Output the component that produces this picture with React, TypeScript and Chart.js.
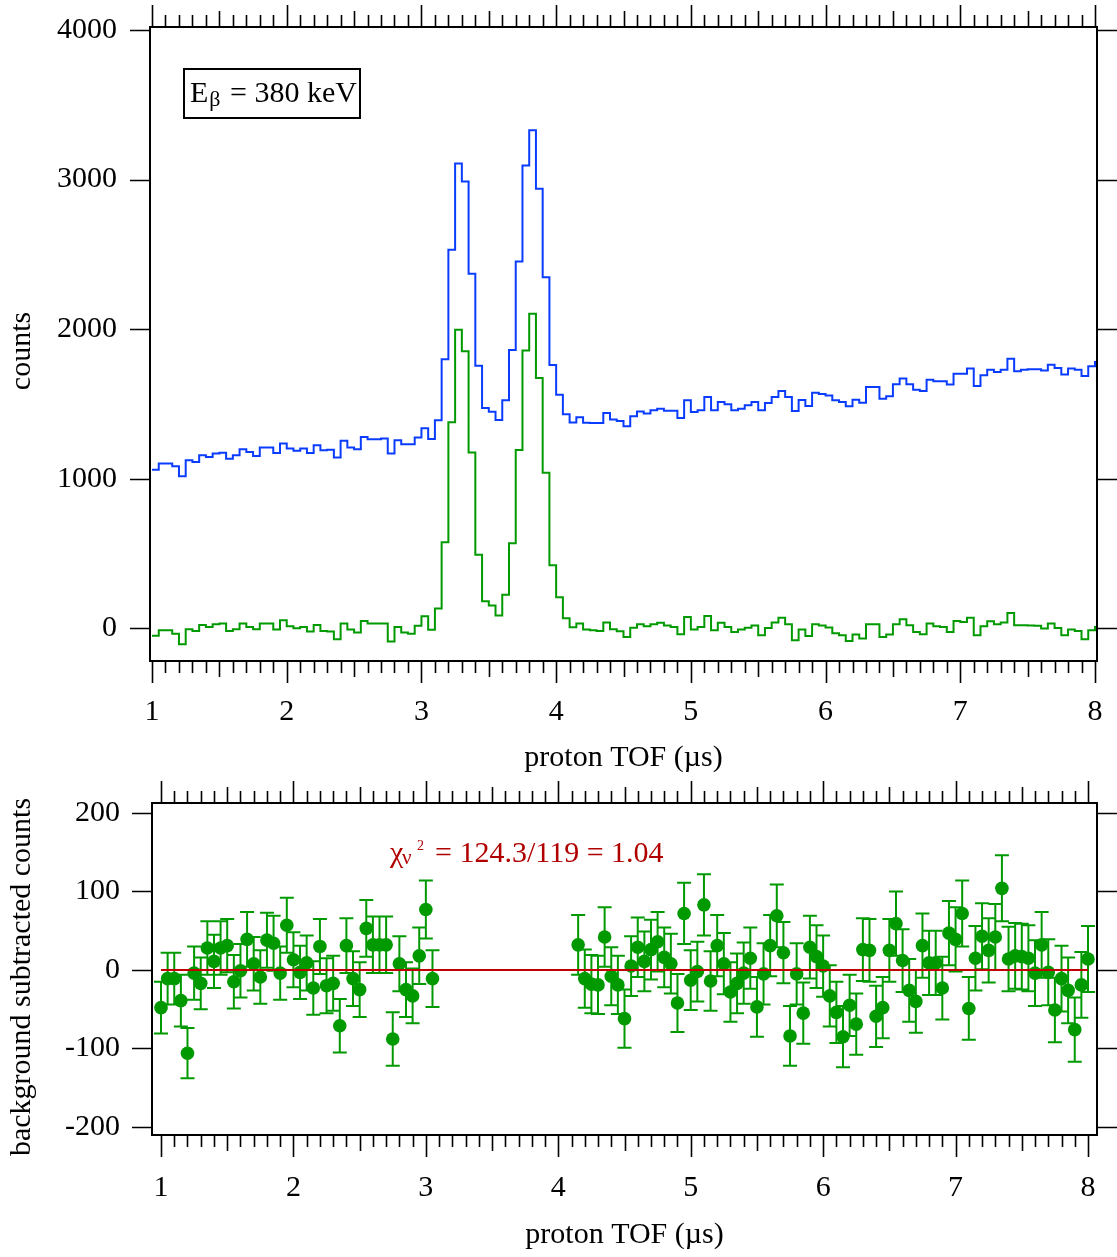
import React, { useEffect, useRef } from 'react';
import { Chart, registerables } from 'chart.js';

Chart.register(...registerables);

const FONT = '"Liberation Serif", "Times New Roman", Times, serif';
const BLUE = '#0a3cff';
const GREEN = '#009a00';
const RED = '#c00000';
const RED_TEXT = '#b00000';

// ---------------- data ----------------
const binStartUs = 1.0;
const binWidthUs = 0.05;

// total proton TOF counts (blue), one value per 0.05 us bin starting at 1.0 us
const totalCounts = [
  1060, 1101, 1101, 1083, 1016, 1123, 1112, 1156, 1145, 1168,
  1174, 1134, 1156, 1197, 1179, 1152, 1208, 1208, 1172, 1235,
  1201, 1186, 1201, 1172, 1224, 1190, 1194, 1141, 1253, 1208,
  1197, 1279, 1264, 1264, 1268, 1168, 1257, 1230, 1230, 1275,
  1338, 1265, 1390, 1798, 2530, 3108, 2987, 2371, 1755, 1472,
  1448, 1393, 1524, 1860, 2452, 3094, 3329, 2939, 2347, 1760,
  1561, 1431, 1375, 1410, 1374, 1372, 1372, 1439, 1395, 1386,
  1350, 1417, 1450, 1435, 1457, 1468, 1455, 1455, 1406, 1524,
  1446, 1457, 1546, 1457, 1513, 1497, 1457, 1468, 1491, 1513,
  1457, 1506, 1546, 1586, 1546, 1453, 1526, 1486, 1574, 1566,
  1557, 1524, 1513, 1484, 1528, 1508, 1613, 1613, 1535, 1551,
  1631, 1669, 1631, 1595, 1586, 1662, 1651, 1651, 1629, 1702,
  1702, 1736, 1620, 1691, 1729, 1713, 1729, 1802, 1718, 1729,
  1731, 1731, 1724, 1762, 1740, 1696, 1736, 1729, 1687, 1751,
  1780,
];

// background subtracted counts (green), same bins
const subtractedCounts = [
  -51, -13, -13, -36, -107, -7, -18, 22, 9, 27,
  31, -18, -7, 31, 9, -7, 31, 31, -9, 54,
  13, 0, 9, -22, 22, -18, -22, -74, 31, -9,
  -29, 49, 31, 31, 31, -89, 9, -29, -36, 16,
  80, -10, 132, 575, 1377, 1995, 1852, 1175, 492, 181,
  152, 86, 224, 568, 1191, 1857, 2102, 1674, 1040, 422,
  208, 67, 6, 31, -9, -13, -18, 38, -7, -20,
  -58, 4, 27, 13, 27, 36, 18, 9, -40, 76,
  -9, 9, 82, -13, 36, 9, -25, -9, 4, 18,
  -47, 2, 38, 71, 27, -80, -8, -52, 27, 19,
  5, -33, -47, -85, -42, -69, 27, 27, -58, -42,
  27, 60, 20, -25, -40, 31, 13, 9, -25, 49,
  42, 71, -47, 13, 47, 27, 38, 102, 20, 20,
  18, 16, -2, 31, 2, -47, -9, -18, -74, -13,
  9,
];

// residuals (lower panel), early window: bins 0..41
const residualEarlyFirstBin = 0;
const residualsEarly = [
  -48, -11, -11, -39, -106, -4, -17, 28, 11, 28,
  31, -15, -1, 39, 8, -9, 38, 34, -4, 57,
  13, -3, 9, -23, 30, -20, -17, -71, 31, -11,
  -25, 53, 32, 32, 32, -88, 8, -25, -33, 18,
  77, -11,
];
const residualErrorsEarly = [
  33, 33, 33, 33, 32, 34, 33, 34, 34, 34,
  34, 34, 34, 35, 34, 34, 35, 35, 34, 35,
  35, 34, 35, 34, 35, 35, 35, 34, 35, 35,
  35, 36, 36, 36, 36, 34, 35, 35, 35, 36,
  37, 36,
];

// residuals, late window: bins 63..140
const residualLateFirstBin = 63;
const residualsLate = [
  32, -11, -18, -19, 42, -8, -19, -62, 5, 29,
  11, 26, 36, 16, 8, -42, 72, -13, -2, 83,
  -14, 31, 8, -28, -17, -4, 15, -47, -5, 31,
  69, 22, -84, -5, -55, 29, 17, 5, -33, -54,
  -85, -45, -69, 26, 25, -59, -48, 25, 59, 12,
  -26, -40, 31, 9, 9, -23, 47, 39, 72, -49,
  15, 43, 25, 42, 104, 14, 18, 17, 15, -4,
  32, -3, -51, -11, -26, -76, -19, 14,
];
const residualErrorsLate = [
  38, 37, 37, 37, 38, 37, 37, 37, 38, 38,
  38, 38, 38, 38, 38, 37, 39, 38, 38, 39,
  38, 39, 39, 38, 38, 39, 39, 38, 39, 39,
  40, 39, 38, 39, 39, 40, 40, 39, 39, 39,
  39, 39, 39, 40, 40, 39, 39, 40, 41, 40,
  40, 40, 41, 41, 41, 40, 41, 41, 42, 40,
  41, 42, 41, 42, 42, 41, 42, 42, 42, 42,
  42, 42, 41, 42, 42, 41, 42, 42,
];

const fitLevel = 0;
const fitRangeUs = [1, 8];

const xTickValues = [1, 2, 3, 4, 5, 6, 7, 8];
const topYTickValues = [0, 1000, 2000, 3000, 4000];
const bottomYTickValues = [-200, -100, 0, 100, 200];

// ---------------- helpers ----------------
function histPoints(values: number[]) {
  const pts = values.map((v, i) => ({ x: binStartUs + i * binWidthUs, y: v }));
  pts.push({ x: binStartUs + values.length * binWidthUs, y: values[values.length - 1] });
  return pts;
}

type RPoint = { x: number; y: number; err: number };
function residualPoints(): RPoint[] {
  const a = residualsEarly.map((v, i) => ({
    x: binStartUs + (residualEarlyFirstBin + i) * binWidthUs,
    y: v,
    err: residualErrorsEarly[i],
  }));
  const b = residualsLate.map((v, i) => ({
    x: binStartUs + (residualLateFirstBin + i) * binWidthUs,
    y: v,
    err: residualErrorsLate[i],
  }));
  return [...a, ...b];
}

function framePlugin(yTicks: number[], yTitle: string, yTitleCenter: number) {
  return {
    id: 'frameTicks',
    afterDraw(chart: any) {
      const { ctx, chartArea: a, scales } = chart;
      const xs = scales.x;
      const ys = scales.y;
      ctx.save();
      ctx.strokeStyle = '#000';
      ctx.lineWidth = 1.6;
      ctx.beginPath();
      for (let i = 10; i <= 80; i++) {
        const px = Math.round(xs.getPixelForValue(i / 10)) + 0.5;
        const len = i % 10 === 0 ? 22 : i % 5 === 0 ? 16 : 12;
        ctx.moveTo(px, a.bottom);
        ctx.lineTo(px, a.bottom + len);
        ctx.moveTo(px, a.top);
        ctx.lineTo(px, a.top - len);
      }
      for (const v of yTicks) {
        const py = Math.round(ys.getPixelForValue(v)) + 0.5;
        ctx.moveTo(a.left - 20, py);
        ctx.lineTo(a.left, py);
        ctx.moveTo(a.right, py);
        ctx.lineTo(a.right + 20, py);
      }
      ctx.stroke();
      ctx.lineWidth = 2;
      ctx.strokeRect(a.left, a.top, a.right - a.left, a.bottom - a.top);

      // y axis title
      ctx.fillStyle = '#000';
      ctx.font = `30px ${FONT}`;
      ctx.textAlign = 'center';
      ctx.textBaseline = 'middle';
      ctx.translate(22.5, yTitleCenter);
      ctx.rotate(-Math.PI / 2);
      ctx.fillText(yTitle, 0, 0);
      ctx.restore();
    },
  };
}

const energyLabelPlugin = {
  id: 'energyLabel',
  afterDraw(chart: any) {
    const { ctx } = chart;
    ctx.save();
    ctx.strokeStyle = '#000';
    ctx.lineWidth = 2;
    ctx.strokeRect(184, 69, 176, 49);
    ctx.fillStyle = '#000';
    ctx.textAlign = 'left';
    ctx.textBaseline = 'alphabetic';
    ctx.font = `30px ${FONT}`;
    ctx.fillText('E', 190, 102);
    const ew = ctx.measureText('E').width;
    ctx.font = `22px ${FONT}`;
    ctx.fillText('\u03b2', 190 + ew + 1, 106);
    ctx.font = `30px ${FONT}`;
    ctx.fillText('= 380 keV', 230, 102);
    ctx.restore();
  },
};

const chiLabelPlugin = {
  id: 'chiLabel',
  afterDraw(chart: any) {
    const { ctx } = chart;
    ctx.save();
    ctx.fillStyle = RED_TEXT;
    ctx.textAlign = 'left';
    ctx.textBaseline = 'alphabetic';
    const base = 86;
    ctx.font = `30px ${FONT}`;
    ctx.fillText('\u03c7', 390, base);
    ctx.font = `21px ${FONT}`;
    ctx.fillText('\u03bd', 402, base + 2);
    ctx.font = `14px ${FONT}`;
    ctx.fillText('2', 417, base - 12);
    ctx.font = `30px ${FONT}`;
    ctx.fillText('= 124.3/119 = 1.04', 435, base);
    ctx.restore();
  },
};

const errorBarPlugin = {
  id: 'errorBars',
  beforeDatasetsDraw(chart: any) {
    const { ctx, scales } = chart;
    const xs = scales.x;
    const ys = scales.y;
    const pts = residualPoints();
    ctx.save();
    ctx.strokeStyle = GREEN;
    ctx.lineWidth = 2;
    ctx.beginPath();
    for (const p of pts) {
      const px = xs.getPixelForValue(p.x);
      const y1 = ys.getPixelForValue(p.y + p.err);
      const y2 = ys.getPixelForValue(p.y - p.err);
      ctx.moveTo(px, y1);
      ctx.lineTo(px, y2);
      ctx.moveTo(px - 7, y1);
      ctx.lineTo(px + 7, y1);
      ctx.moveTo(px - 7, y2);
      ctx.lineTo(px + 7, y2);
    }
    ctx.stroke();
    ctx.restore();
  },
};

const tickFont = { family: FONT, size: 30 };

function zeroPadding(s: any) {
  s.paddingLeft = 0;
  s.paddingRight = 0;
  s.paddingTop = 0;
  s.paddingBottom = 0;
}

function xScale(min: number, max: number, height: number, labelPad: number, titleBottom: number) {
  return {
    type: 'linear',
    min,
    max,
    grid: { display: false, drawTicks: false },
    border: { display: false },
    afterBuildTicks: (s: any) => {
      s.ticks = xTickValues.map((v) => ({ value: v }));
    },
    ticks: {
      font: tickFont,
      color: '#000',
      padding: labelPad,
      maxRotation: 0,
      autoSkip: false,
      callback: (v: any) => String(v),
    },
    title: {
      display: true,
      text: 'proton TOF (\u00b5s)',
      font: tickFont,
      color: '#000',
      padding: { top: 0, bottom: titleBottom },
    },
    afterFit: (s: any) => {
      s.height = height;
      zeroPadding(s);
    },
  };
}

function yScale(min: number, max: number, width: number, tickVals: number[], pad: number) {
  return {
    type: 'linear',
    min,
    max,
    grid: { display: false, drawTicks: false },
    border: { display: false },
    afterBuildTicks: (s: any) => {
      s.ticks = tickVals.map((v) => ({ value: v }));
    },
    ticks: {
      font: tickFont,
      color: '#000',
      padding: pad,
      autoSkip: false,
      callback: (v: any) => String(v),
    },
    title: { display: false },
    afterFit: (s: any) => {
      s.width = width;
      zeroPadding(s);
    },
  };
}

export default function App() {
  const topRef = useRef<HTMLCanvasElement>(null);
  const botRef = useRef<HTMLCanvasElement>(null);

  useEffect(() => {
    const top = new Chart(topRef.current as HTMLCanvasElement, {
      type: 'line',
      data: {
        datasets: [
          {
            data: histPoints(totalCounts),
            borderColor: BLUE,
            borderWidth: 2,
            stepped: 'before',
            pointRadius: 0,
            fill: false,
          },
          {
            data: histPoints(subtractedCounts),
            borderColor: GREEN,
            borderWidth: 2,
            stepped: 'before',
            pointRadius: 0,
            fill: false,
          },
        ],
      },
      options: {
        animation: false,
        responsive: false,
        devicePixelRatio: 1,
        layout: { padding: { top: 27, right: 20, left: 0, bottom: 0 } },
        plugins: { legend: { display: false }, tooltip: { enabled: false } },
        scales: {
          x: xScale(0.985, 8.015, 115, 33, 0),
          y: yScale(-219, 4020, 150, topYTickValues, 33),
        } as any,
      },
      plugins: [framePlugin(topYTickValues, 'counts', 351), energyLabelPlugin],
    } as any);

    const pts = residualPoints();
    const bottom = new Chart(botRef.current as HTMLCanvasElement, {
      type: 'scatter',
      data: {
        datasets: [
          {
            type: 'line',
            data: fitRangeUs.map((x) => ({ x, y: fitLevel })),
            borderColor: RED,
            borderWidth: 2,
            pointRadius: 0,
            fill: false,
          },
          {
            type: 'scatter',
            data: pts.map((p) => ({ x: p.x, y: p.y })),
            backgroundColor: GREEN,
            borderWidth: 0,
            pointRadius: 6.8,
          },
        ],
      },
      options: {
        animation: false,
        responsive: false,
        devicePixelRatio: 1,
        layout: { padding: { top: 27, right: 20, left: 0, bottom: 0 } },
        plugins: { legend: { display: false }, tooltip: { enabled: false } },
        scales: {
          x: xScale(0.932, 8.068, 122, 35, 4),
          y: yScale(-210.2, 212.7, 152, bottomYTickValues, 32),
        } as any,
      },
      plugins: [
        framePlugin(bottomYTickValues, 'background subtracted counts', 977 - 776),
        errorBarPlugin,
        chiLabelPlugin,
      ],
    } as any);

    return () => {
      top.destroy();
      bottom.destroy();
    };
  }, []);

  return (
    <div style={{ position: 'absolute', left: 0, top: 0, width: 1117, height: 1257, background: '#fff' }}>
      <canvas ref={topRef} width={1117} height={776} style={{ position: 'absolute', left: 0, top: 0, width: 1117, height: 776 }} />
      <canvas ref={botRef} width={1117} height={481} style={{ position: 'absolute', left: 0, top: 776, width: 1117, height: 481 }} />
    </div>
  );
}
